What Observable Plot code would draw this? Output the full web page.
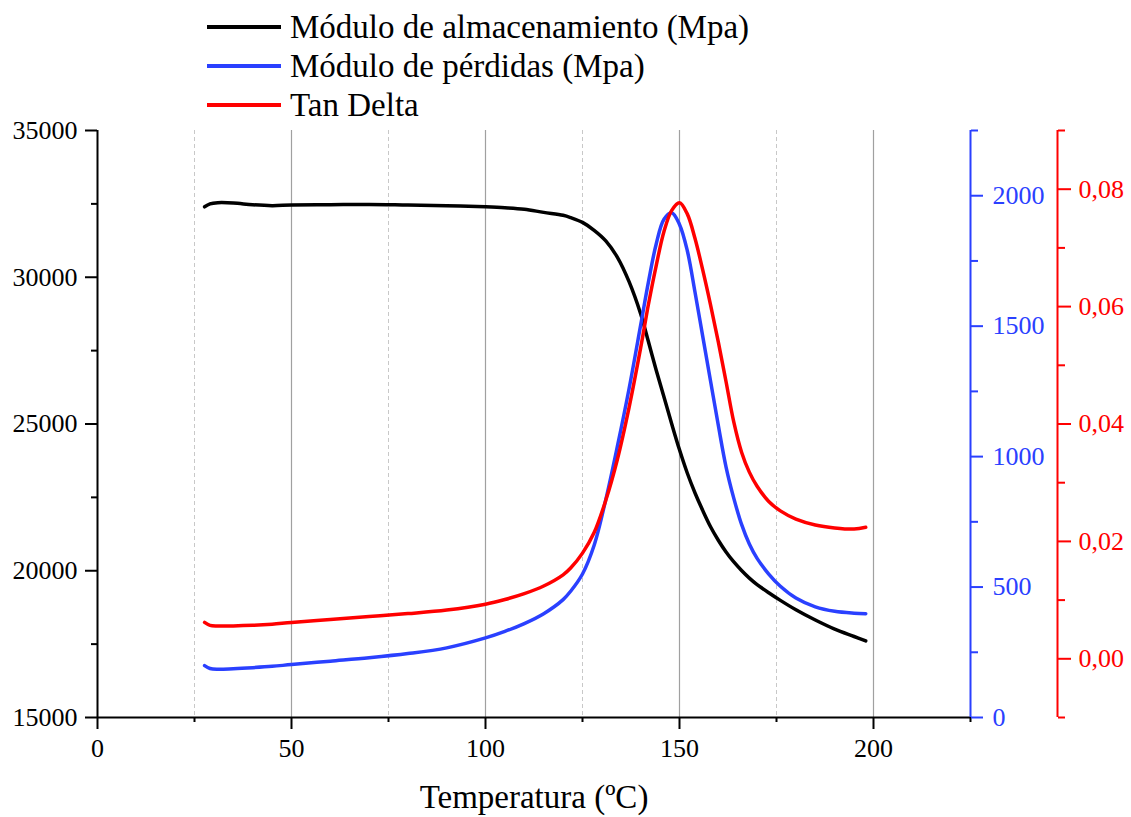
<!DOCTYPE html>
<html>
<head>
<meta charset="utf-8">
<script src="https://cdn.jsdelivr.net/npm/d3@7"></script>
<script src="https://cdn.jsdelivr.net/npm/@observablehq/plot@0.6"></script>
<style>
  body { margin: 0; background: #fff; font-family: "Liberation Serif", "Times New Roman", serif; }
  #legend { position: relative; width: 1131px; height: 118px; }
  .row { position: absolute; left: 207px; height: 40px; display: flex; align-items: center; }
  .sw { width: 74px; height: 4px; margin-right: 9px; }
  .lab { font-size: 33px; line-height: 40px; color: #000; white-space: nowrap; }
  #chart svg { display: block; font-family: "Liberation Serif", "Times New Roman", serif !important; }
  #chart svg g, #chart svg text { font-family: "Liberation Serif", "Times New Roman", serif !important; font-variant: normal !important; font-variant-numeric: normal !important; }
</style>
</head>
<body>
<div id="legend"></div>
<div id="chart"></div>
<script>
// ---- data ----
const temperature = [27.6, 29, 31, 35, 40, 45, 50, 60, 70, 80, 90, 100, 105, 110, 115, 120, 122, 125, 128, 131, 134, 137, 140, 142, 144, 146, 148, 150, 152, 154, 156, 158, 160, 162, 164, 166, 168, 170, 173, 176, 180, 185, 190, 195, 198];
const storageModulus = [32400, 32500, 32540, 32530, 32470, 32440, 32460, 32470, 32480, 32460, 32440, 32400, 32370, 32320, 32210, 32110, 32030, 31870, 31600, 31240, 30680, 29850, 28750, 27800, 26830, 25920, 25000, 24120, 23330, 22650, 22050, 21500, 21040, 20640, 20300, 20010, 19750, 19530, 19250, 18990, 18670, 18320, 18010, 17760, 17610];
const lossModulus = [199, 188, 185, 187, 191, 196, 203, 216, 229, 245, 267, 305, 330, 360, 398, 452, 485, 550, 660, 835, 1040, 1260, 1505, 1670, 1815, 1910, 1935, 1890, 1790, 1630, 1460, 1290, 1120, 960, 840, 740, 665, 610, 550, 503, 458, 424, 407, 400, 398];
const tanDelta = [0.0062, 0.0057, 0.0056, 0.0056, 0.0057, 0.0059, 0.0062, 0.0067, 0.0072, 0.0077, 0.0083, 0.0093, 0.0101, 0.0111, 0.0124, 0.0143, 0.0155, 0.0180, 0.0215, 0.0270, 0.0340, 0.0428, 0.0530, 0.0604, 0.0670, 0.0728, 0.0764, 0.0777, 0.0758, 0.0716, 0.0662, 0.0603, 0.0540, 0.0472, 0.0403, 0.0352, 0.0318, 0.0294, 0.0268, 0.0252, 0.0238, 0.0228, 0.0223, 0.0221, 0.0224];

const seriesNames = ["Módulo de almacenamiento (Mpa)", "Módulo de pérdidas (Mpa)", "Tan Delta"];
const seriesColors = ["#000000", "#2a40ff", "#ff0000"];
const xLabel = "Temperatura (ºC)";

const xDomain = [0, 225];
const xMajor = [0, 50, 100, 150, 200];
const xMinor = [25, 75, 125, 175, 225];
const leftDomain = [15000, 35000];
const leftMajor = [15000, 20000, 25000, 30000, 35000];
const leftMinor = [17500, 22500, 27500, 32500];
const blueDomain = [0, 2250];
const blueMajor = [0, 500, 1000, 1500, 2000];
const blueMinor = [250, 750, 1250, 1750, 2250];
const redDomain = [-0.01, 0.09];
const redMajor = [0, 0.02, 0.04, 0.06, 0.08];
const redMinor = [-0.01, 0.01, 0.03, 0.05, 0.07, 0.09];

const FONT = "Liberation Serif";

// ---- legend ----
const legend = document.getElementById("legend");
const rowTops = [7, 46, 85];
seriesNames.forEach((name, i) => {
  const row = document.createElement("div");
  row.className = "row";
  row.style.top = rowTops[i] + "px";
  row.innerHTML = `<div class="sw" style="background:${seriesColors[i]}"></div><span class="lab">${name}</span>`;
  legend.appendChild(row);
});

// ---- secondary scales mapped onto the primary y ----
const blueToLeft = d3.scaleLinear().domain(blueDomain).range(leftDomain);
const redToLeft = d3.scaleLinear().domain(redDomain).range(leftDomain);

const rows = temperature.map((t, i) => ({
  t,
  E: storageModulus[i],
  L: blueToLeft(lossModulus[i]),
  D: redToLeft(tanDelta[i])
}));

const blue = seriesColors[1], red = seriesColors[2];
const redOffset = 87;
const fmtRed = d => { const v = redToLeft.invert(d); return (Math.abs(v) < 1e-9 ? 0 : v).toFixed(2).replace(".", ","); };

const chart = Plot.plot({
  width: 1131,
  height: 699,
  marginTop: 12,
  marginBottom: 100,
  marginLeft: 97,
  marginRight: 161,
  style: { fontFamily: FONT, background: "white", color: "black", overflow: "visible" },
  x: { domain: xDomain },
  y: { domain: leftDomain },
  marks: [
    Plot.ruleX(xMinor.slice(0, 4), { stroke: "#c8c8c8", strokeWidth: 1, strokeDasharray: "4,3" }),
    Plot.ruleX(xMajor.slice(1), { stroke: "#a0a0a0", strokeWidth: 1.2 }),

    Plot.line(rows, { x: "t", y: "E", stroke: seriesColors[0], strokeWidth: 3.5, curve: "catmull-rom" }),
    Plot.line(rows, { x: "t", y: "L", stroke: blue, strokeWidth: 3.5, curve: "catmull-rom" }),
    Plot.line(rows, { x: "t", y: "D", stroke: red, strokeWidth: 3.5, curve: "catmull-rom" }),

    // axis lines
    Plot.ruleX([xDomain[0]], { stroke: "black", strokeWidth: 2 }),
    Plot.ruleY([leftDomain[0]], { stroke: "black", strokeWidth: 2 }),
    Plot.ruleX([xDomain[1]], { stroke: blue, strokeWidth: 2 }),
    Plot.ruleX([xDomain[1]], { stroke: red, strokeWidth: 2, dx: redOffset }),

    // bottom axis
    Plot.axisX(xMajor, { tickSize: 12, tickPadding: 9, fontSize: 26, fontFamily: FONT, fontVariant: "normal", strokeWidth: 2, label: null }),
    Plot.axisX(xMinor, { tickSize: 5, strokeWidth: 2, tickFormat: () => "", label: null }),

    // left axis
    Plot.axisY(leftMajor, { anchor: "left", tickSize: 12, tickPadding: 8, fontSize: 26, fontFamily: FONT, fontVariant: "normal", strokeWidth: 2, label: null, tickFormat: d => String(d) }),
    Plot.axisY(leftMinor, { anchor: "left", tickSize: 6, strokeWidth: 2, tickFormat: () => "", label: null }),

    // blue axis
    Plot.axisY(blueMajor.map(blueToLeft), { anchor: "right", color: blue, tickSize: 12, tickPadding: 10, fontSize: 26, fontFamily: FONT, fontVariant: "normal", strokeWidth: 2, label: null,
      tickFormat: d => String(Math.round(blueToLeft.invert(d))) }),
    Plot.axisY(blueMinor.map(blueToLeft), { anchor: "right", color: blue, tickSize: 7, strokeWidth: 2, tickFormat: () => "", label: null }),

    // red axis
    Plot.axisY(redMajor.map(redToLeft), { anchor: "right", color: red, dx: redOffset, tickSize: 13, tickPadding: 8, fontSize: 26, fontFamily: FONT, fontVariant: "normal", strokeWidth: 2, label: null,
      tickFormat: fmtRed }),
    Plot.axisY(redMinor.map(redToLeft), { anchor: "right", color: red, dx: redOffset, tickSize: 7, strokeWidth: 2, tickFormat: () => "", label: null }),

    // x title
    Plot.text([xLabel], { frameAnchor: "bottom", text: d => d, dy: 80, fontSize: 33, fontFamily: FONT, lineAnchor: "middle", fill: "black" })
  ]
});
document.getElementById("chart").appendChild(chart);
</script>
</body>
</html>
